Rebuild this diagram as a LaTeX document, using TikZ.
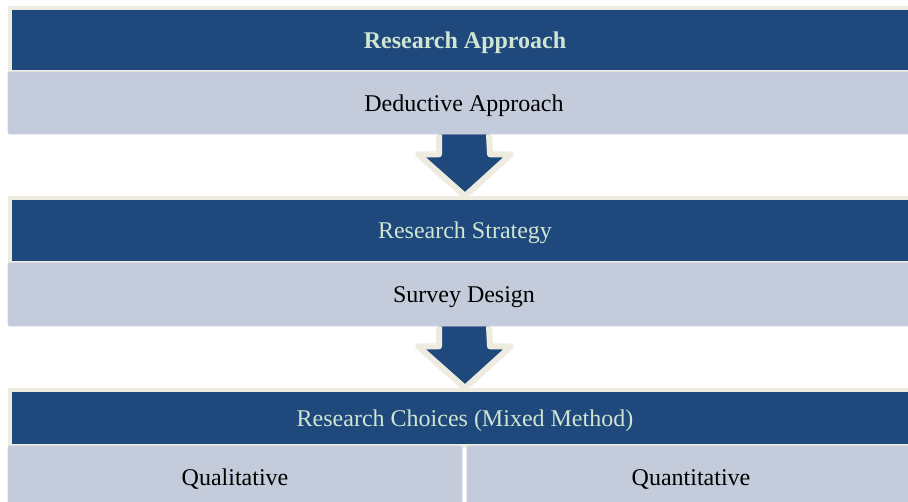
\documentclass[tikz,border=0pt]{standalone}
\usepackage{fontspec}
\setmainfont{Liberation Serif}
\usepackage{xcolor}
\usepackage{tikz}
\usetikzlibrary{calc}
\usetikzlibrary{positioning}

\definecolor{hdblue}{HTML}{1F497D}
\definecolor{hdtext}{HTML}{CFE5D2}
\definecolor{rimbeige}{HTML}{EEECE1}
\definecolor{bodygrey}{HTML}{C4CBDA}

\begin{document}
\begin{tikzpicture}[x=1pt, y=-1pt,
  head/.style={rectangle, fill=hdblue, draw=rimbeige, line width=4pt, minimum width=910pt, text=hdtext, text height=20pt, text depth=3pt, font=\fontsize{24}{28}\selectfont},
  body/.style={rectangle, fill=bodygrey, draw=bodygrey!90!white, line width=0.6pt, rounded corners=2pt, text height=20pt, text depth=3pt, font=\fontsize{24}{28}\selectfont},
  blockarrow/.style={fill=hdblue, draw=rimbeige, line width=6pt, line join=round}]
\useasboundingbox (0, 0) rectangle (908, 502);

\node [head, minimum height=64pt] (H1) at (465, 40) {\textbf{Research Approach}};
\node [body, minimum width=912pt, minimum height=62pt] (B1) at (464, 103) {Deductive Approach};

\node [head, minimum height=65pt] (H2) at (465, 230.5) {Research Strategy};
\node [body, minimum width=912pt, minimum height=63pt] (B2) at (464, 294.5) {Survey Design};

\node [head, minimum height=56pt] (H3) at (465, 418) {Research Choices (Mixed Method)};
\node [body, minimum width=454pt, minimum height=62pt] (B3a) at (235, 477) {Qualitative};
\node [body, minimum width=448pt, minimum height=62pt] (B3b) at (691, 477) {Quantitative};

% down arrows between the stages
\foreach \src/\dst in {B1/H2, B2/H3} {
  \draw [blockarrow] ([xshift=-25pt]\src.south) -- ++(0,20) coordinate (w)
    -- ++(-21,0) -- (\dst.north) -- ([xshift=46pt]\dst.north |- w)
    -- ++(-21,0) -- ([xshift=25pt]\src.south);
}
\end{tikzpicture}
\end{document}
